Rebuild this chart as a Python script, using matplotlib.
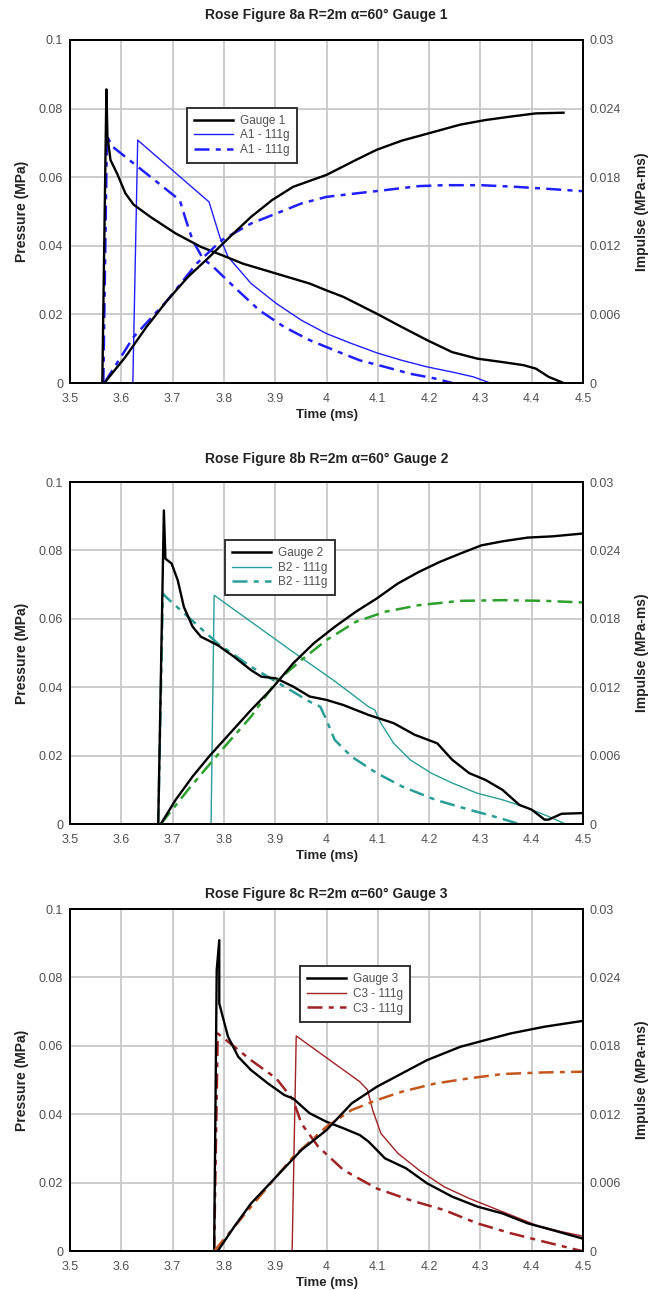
import numpy as np
import matplotlib
matplotlib.use("Agg")
import matplotlib.pyplot as plt
from matplotlib.lines import Line2D

plt.rcParams['font.family'] = ['Liberation Sans', 'DejaVu Sans']

# ---------------- data ----------------
# Figure 8a, Gauge 1
t_g1_p = [3.563, 3.571, 3.573, 3.579, 3.592, 3.608, 3.624, 3.657, 3.706, 3.755, 3.804, 3.837,
          3.902, 3.967, 4.0, 4.033, 4.098, 4.147, 4.196, 4.245, 4.294, 4.343, 4.384, 4.408,
          4.433, 4.462]
g1_p = [0.0, 0.0856, 0.0718, 0.065, 0.061, 0.0553, 0.052, 0.0484, 0.0436, 0.0397, 0.0368, 0.0348,
        0.0319, 0.029, 0.027, 0.0251, 0.0202, 0.0163, 0.0125, 0.009, 0.0071, 0.0061, 0.0052, 0.0042,
        0.0018, 0.0]
t_g1_i = [3.567, 3.608, 3.649, 3.69, 3.73, 3.771, 3.812, 3.853, 3.894, 3.935, 4.0, 4.057, 4.098,
          4.147, 4.196, 4.261, 4.31, 4.359, 4.408, 4.462]
g1_i = [0.0, 0.00228, 0.0049, 0.00724, 0.00928, 0.011, 0.0128, 0.01453, 0.016, 0.01716, 0.0182,
        0.0195, 0.0204, 0.0212, 0.0218, 0.0226, 0.023, 0.0233, 0.02358, 0.02364]
t_a1_p = [3.62, 3.6225, 3.632, 3.771, 3.792, 3.808, 3.853, 3.902, 3.951, 4.0, 4.049, 4.098, 4.147,
          4.196, 4.245, 4.286, 4.319]
a1_p = [0.0, 0.0, 0.0708, 0.0528, 0.0426, 0.0368, 0.029, 0.0232, 0.0183, 0.0144, 0.0115, 0.0088,
        0.0066, 0.0047, 0.0032, 0.0018, 0.0]
t_a1d_p = [3.565, 3.572, 3.583, 3.714, 3.726, 3.739, 3.759, 3.779, 3.82, 3.869, 3.918, 3.967,
           4.016, 4.065, 4.114, 4.163, 4.212, 4.245]
a1d_p = [0.0, 0.072, 0.0689, 0.0533, 0.0475, 0.0416, 0.0363, 0.0339, 0.028, 0.0212, 0.0163, 0.0125,
         0.0095, 0.0066, 0.0047, 0.0027, 0.0013, 0.0]
t_a1d_i = [3.567, 3.624, 3.69, 3.747, 3.796, 3.853, 3.902, 3.951, 4.0, 4.057, 4.114, 4.18, 4.229,
           4.302, 4.368, 4.425, 4.498]
a1d_i = [0.0, 0.00403, 0.00724, 0.01045, 0.0125, 0.01395, 0.01482, 0.0157, 0.01628, 0.01658,
         0.01687, 0.01722, 0.0173, 0.0173, 0.01716, 0.017, 0.01678]

# Figure 8b, Gauge 2
t_g2_p = [3.672, 3.683, 3.686, 3.698, 3.71, 3.722, 3.739, 3.755, 3.788, 3.82, 3.853, 3.873, 3.902,
          3.935, 3.967, 4.0, 4.033, 4.082, 4.131, 4.172, 4.216, 4.245, 4.278, 4.31, 4.343, 4.376,
          4.4, 4.425, 4.433, 4.458, 4.498]
g2_p = [0.0, 0.0917, 0.0776, 0.0762, 0.0713, 0.0635, 0.0577, 0.0548, 0.0523, 0.0489, 0.045,
        0.0431, 0.0426, 0.0402, 0.0373, 0.0363, 0.0348, 0.0319, 0.0295, 0.0261, 0.0236, 0.0188,
        0.0149, 0.0129, 0.01, 0.0056, 0.0042, 0.0013, 0.0013, 0.003, 0.0032]
t_g2_i = [3.677, 3.706, 3.739, 3.771, 3.812, 3.853, 3.894, 3.935, 3.975, 4.016, 4.057, 4.098,
          4.139, 4.18, 4.221, 4.261, 4.302, 4.343, 4.392, 4.441, 4.498]
g2_i = [0.0, 0.00213, 0.00417, 0.00592, 0.00797, 0.01001, 0.01191, 0.0141, 0.01585, 0.0173,
        0.01862, 0.01979, 0.0211, 0.02212, 0.023, 0.02373, 0.02445, 0.0248, 0.02513, 0.02524, 0.02548]
t_b2_p = [3.774, 3.775, 3.781, 3.935, 4.016, 4.082, 4.094, 4.106, 4.131, 4.163, 4.204, 4.245,
          4.294, 4.343, 4.392, 4.433, 4.466]
b2_p = [0.0, 0.0, 0.0669, 0.0503, 0.0418, 0.0343, 0.0334, 0.0295, 0.0236, 0.0188, 0.0149, 0.012,
        0.009, 0.0071, 0.0047, 0.0022, 0.0]
t_b2d_p = [3.672, 3.681, 3.69, 3.73, 3.788, 3.853, 3.918, 3.967, 3.988, 4.0, 4.016, 4.049, 4.098,
           4.147, 4.212, 4.278, 4.327, 4.376]
b2d_p = [0.0, 0.0674, 0.066, 0.0606, 0.0528, 0.046, 0.0402, 0.0358, 0.0343, 0.0304, 0.0246,
         0.0197, 0.0149, 0.011, 0.0071, 0.0042, 0.0022, 0.0]
t_b2d_i = [3.677, 3.73, 3.796, 3.853, 3.902, 3.951, 4.0, 4.057, 4.114, 4.18, 4.261, 4.343, 4.425,
           4.498]
b2d_i = [0.0, 0.003, 0.00651, 0.00943, 0.01249, 0.01439, 0.01614, 0.01774, 0.01862, 0.0192,
         0.01958, 0.01964, 0.01958, 0.01944]

# Figure 8c, Gauge 3
t_g3_p = [3.781, 3.786, 3.791, 3.791, 3.796, 3.808, 3.828, 3.853, 3.886, 3.918, 3.935, 3.967, 4.0,
          4.033, 4.065, 4.082, 4.114, 4.155, 4.196, 4.245, 4.294, 4.343, 4.392, 4.441, 4.498]
g3_p = [0.0, 0.0822, 0.0909, 0.0724, 0.0695, 0.0627, 0.0568, 0.0529, 0.049, 0.0456, 0.0446,
        0.0403, 0.0378, 0.0359, 0.0339, 0.032, 0.0271, 0.0242, 0.0198, 0.0159, 0.013, 0.011,
        0.0081, 0.0061, 0.0037]
t_g3_i = [3.788, 3.82, 3.853, 3.902, 3.951, 4.0, 4.049, 4.098, 4.147, 4.196, 4.261, 4.31, 4.359,
          4.425, 4.498]
g3_i = [0.0, 0.00213, 0.00418, 0.00652, 0.00886, 0.01061, 0.01295, 0.01441, 0.01558, 0.01675,
        0.01792, 0.01851, 0.01909, 0.01968, 0.02018]
t_c3_p = [3.932, 3.933, 3.941, 4.065, 4.08, 4.09, 4.106, 4.139, 4.18, 4.229, 4.278, 4.343, 4.408,
          4.457, 4.498]
c3_p = [0.0, 0.0, 0.0629, 0.0495, 0.0471, 0.0412, 0.0344, 0.0286, 0.0237, 0.0188, 0.0154, 0.0115,
        0.0076, 0.0057, 0.0044]
t_c3d_p = [3.781, 3.788, 3.796, 3.853, 3.902, 3.935, 3.951, 3.984, 4.033, 4.098, 4.163, 4.229,
           4.294, 4.359, 4.425, 4.498]
c3d_p = [0.0, 0.0636, 0.0627, 0.0558, 0.0505, 0.0442, 0.0373, 0.0305, 0.0237, 0.0183, 0.0149,
         0.012, 0.0081, 0.0052, 0.0027, 0.0]
t_c3d_i = [3.781, 3.853, 3.935, 4.0, 4.049, 4.098, 4.147, 4.212, 4.278, 4.343, 4.425, 4.498]
c3d_i = [0.0, 0.00389, 0.00827, 0.01091, 0.01237, 0.01324, 0.01398, 0.0147, 0.01515, 0.01553,
         0.01567, 0.01573]

titles = ["Rose Figure 8a R=2m \u03b1=60\u00b0 Gauge 1",
          "Rose Figure 8b R=2m \u03b1=60\u00b0 Gauge 2",
          "Rose Figure 8c R=2m \u03b1=60\u00b0 Gauge 3"]
labels = [["Gauge 1", "A1 - 111g", "A1 - 111g"],
          ["Gauge 2", "B2 - 111g", "B2 - 111g"],
          ["Gauge 3", "C3 - 111g", "C3 - 111g"]]

x_ticks = [3.5, 3.6, 3.7, 3.8, 3.9, 4.0, 4.1, 4.2, 4.3, 4.4, 4.5]
x_labels = ["3.5", "3.6", "3.7", "3.8", "3.9", "4", "4.1", "4.2", "4.3", "4.4", "4.5"]
p_ticks = [0, 0.02, 0.04, 0.06, 0.08, 0.1]
p_labels = ["0", "0.02", "0.04", "0.06", "0.08", "0.1"]
i_ticks = [0, 0.006, 0.012, 0.018, 0.024, 0.03]
i_labels = ["0", "0.006", "0.012", "0.018", "0.024", "0.03"]

panels = [
    dict(g=(t_g1_p, g1_p, t_g1_i, g1_i), s=(t_a1_p, a1_p), d=(t_a1d_p, a1d_p, t_a1d_i, a1d_i),
         c="#1f1fff", ci="#1f1fff", pos=[0.1062, 0.7031, 0.7785, 0.2659], leg=(0.217, 0.82),
         tpad=15),
    dict(g=(t_g2_p, g2_p, t_g2_i, g2_i), s=(t_b2_p, b2_p), d=(t_b2d_p, b2d_p, t_b2d_i, b2d_i),
         c="#2a9d9a", ci="#2ca02c", pos=[0.1062, 0.3612, 0.7785, 0.2651], leg=(0.291, 0.848),
         tpad=14),
    dict(g=(t_g3_p, g3_p, t_g3_i, g3_i), s=(t_c3_p, c3_p), d=(t_c3d_p, c3d_p, t_c3d_i, c3d_i),
         c="#a02222", ci="#c4561c", pos=[0.1062, 0.0302, 0.7785, 0.2651], leg=(0.437, 0.85),
         tpad=8),
]

dash = (6, 2.5, 2, 2.5)

fig = plt.figure(figsize=(6.59, 12.9), dpi=100)

for k, pn in enumerate(panels):
    ax = fig.add_axes(pn["pos"])
    ax2 = ax.twinx()
    ax.set_xlim(3.5, 4.5)
    ax.set_ylim(0, 0.1)
    ax2.set_ylim(0, 0.03)
    ax.set_xticks(x_ticks)
    ax.set_xticklabels(x_labels)
    ax.set_yticks(p_ticks)
    ax.set_yticklabels(p_labels)
    ax2.set_yticks(i_ticks)
    ax2.set_yticklabels(i_labels)
    ax.grid(True, color="#c8c8c8", lw=1.3)
    ax.set_axisbelow(True)
    for a in (ax, ax2):
        a.tick_params(length=0, labelsize=9, labelcolor="#505050", pad=5)
        for sp in a.spines.values():
            sp.set_linewidth(1.4)
    ax.tick_params(axis="x", pad=7)
    ax.set_title(titles[k], fontsize=10, fontweight="bold", pad=pn["tpad"], color="#222222")
    ax.set_xlabel("Time (ms)", fontsize=9.5, fontweight="bold", labelpad=3, color="#222222")
    ax.set_ylabel("Pressure (MPa)", fontsize=10, fontweight="bold", labelpad=7, color="#222222")
    ax2.set_ylabel("Impulse (MPa-ms)", fontsize=10, fontweight="bold", labelpad=10,
                   color="#222222")

    tg, g, tgi, gi = pn["g"]
    ts, s = pn["s"]
    td, d, tdi, di = pn["d"]
    ax.plot(ts, s, color=pn["c"], lw=1.0)
    ax.plot(td, d, color=pn["c"], lw=1.8, dashes=dash)
    ax.plot(tg, g, color="black", lw=1.7)
    ax2.plot(tdi, di, color=pn["ci"], lw=1.8, dashes=dash)
    ax2.plot(tgi, gi, color="black", lw=1.7)

    handles = [Line2D([], [], color="black", lw=1.8),
               Line2D([], [], color=pn["c"], lw=1.0),
               Line2D([], [], color=pn["c"], lw=1.8, dashes=dash)]
    leg = ax2.legend(handles, labels[k], loc="upper left", bbox_to_anchor=pn["leg"],
                     fontsize=8.5, frameon=True, fancybox=False, handlelength=3.3,
                     borderpad=0.6, labelspacing=0.22, handletextpad=0.6, framealpha=1)
    leg.get_frame().set_edgecolor("#333333")
    leg.get_frame().set_linewidth(1.4)
    for txt in leg.get_texts():
        txt.set_color("#505050")

fig.savefig("out.png", dpi=100)
